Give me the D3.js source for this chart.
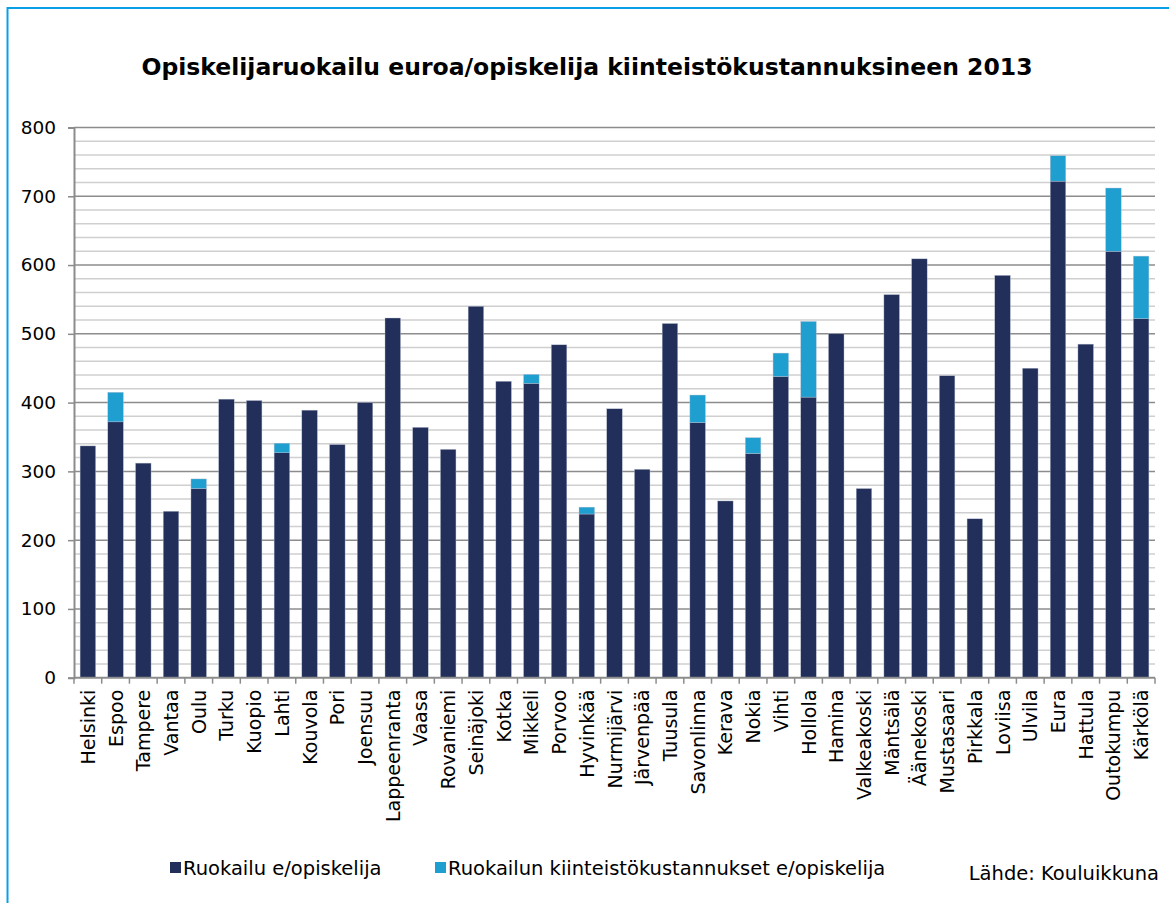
<!DOCTYPE html>
<html>
<head>
<meta charset="utf-8">
<script src="https://cdn.jsdelivr.net/npm/d3@7"></script>
<style>
  body { margin: 0; background: #fff; }
  svg { display: block; font-family: "DejaVu Sans", Verdana, sans-serif; }
</style>
</head>
<body>
<script>
// kunnat
var cities = ["Helsinki", "Espoo", "Tampere", "Vantaa", "Oulu", "Turku", "Kuopio", "Lahti",
  "Kouvola", "Pori", "Joensuu", "Lappeenranta", "Vaasa", "Rovaniemi", "Seinäjoki", "Kotka",
  "Mikkeli", "Porvoo", "Hyvinkää", "Nurmijärvi", "Järvenpää", "Tuusula", "Savonlinna", "Kerava",
  "Nokia", "Vihti", "Hollola", "Hamina", "Valkeakoski", "Mäntsälä", "Äänekoski", "Mustasaari",
  "Pirkkala", "Loviisa", "Ulvila", "Eura", "Hattula", "Outokumpu", "Kärkölä"];

// Ruokailu e/opiskelija
var meals = [337, 372, 312, 242, 275, 405, 403, 327,
  389, 339, 400, 523, 364, 332, 540, 431,
  428, 484, 238, 391, 303, 515, 371, 257,
  326, 438, 408, 500, 275, 557, 609, 439,
  231, 585, 450, 722, 485, 620, 522];

// Ruokailun kiinteistökustannukset e/opiskelija
var property = [0, 43, 0, 0, 14, 0, 0, 14,
  0, 0, 0, 0, 0, 0, 0, 0,
  13, 0, 10, 0, 0, 0, 40, 0,
  23, 34, 110, 0, 0, 0, 0, 0,
  0, 0, 0, 37, 0, 92, 91];

var seriesNames = ["Ruokailu e/opiskelija", "Ruokailun kiinteistökustannukset e/opiskelija"];
var yTicks = [0, 100, 200, 300, 400, 500, 600, 700, 800];

var width = 1169, height = 903;
var plotLeft = 74, plotRight = 1155, plotTop = 127.5, plotBottom = 677.7;
var colors = ["#212f5a", "#1f9fd0"];

var svg = d3.select("body").append("svg")
    .attr("width", width)
    .attr("height", height);

// kehys
svg.append("rect")
    .attr("x", 7.5).attr("y", 8)
    .attr("width", width).attr("height", height)
    .attr("fill", "none")
    .attr("stroke", "#0aa0e6")
    .attr("stroke-width", 2);

svg.append("text")
    .attr("x", 587).attr("y", 75)
    .attr("text-anchor", "middle")
    .attr("font-weight", "bold")
    .attr("font-size", "23.5px")
    .text("Opiskelijaruokailu euroa/opiskelija kiinteistökustannuksineen 2013");

var x = d3.scaleBand().domain(cities).range([plotLeft, plotRight]).paddingInner(0.44).paddingOuter(0.22);
var y = d3.scaleLinear().domain([0, 800]).range([plotBottom, plotTop]);

// apuviivat
svg.append("g").selectAll("line")
    .data(d3.range(20, 800, 20).filter(function(v) { return v % 100 != 0; }))
  .enter().append("line")
    .attr("x1", plotLeft).attr("x2", plotRight)
    .attr("y1", function(d) { return y(d); })
    .attr("y2", function(d) { return y(d); })
    .attr("stroke", "#cfcfcf")
    .attr("stroke-width", 1.5);

svg.append("g").selectAll("line")
    .data(yTicks.slice(1))
  .enter().append("line")
    .attr("x1", plotLeft).attr("x2", plotRight)
    .attr("y1", function(d) { return y(d); })
    .attr("y2", function(d) { return y(d); })
    .attr("stroke", "#8c8c8c")
    .attr("stroke-width", 1.5);

// pinot
var stacked = cities.map(function(c, i) { return {city: c, a: meals[i], b: property[i]}; });
var layers = d3.stack().keys(["a", "b"])(stacked);

svg.append("g").selectAll("g")
    .data(layers)
  .enter().append("g")
    .attr("fill", function(d, i) { return colors[i]; })
  .selectAll("rect")
    .data(function(d) { return d.filter(function(p) { return p[1] > p[0]; }); })
  .enter().append("rect")
    .attr("x", function(d) { return x(d.data.city); })
    .attr("width", x.bandwidth())
    .attr("y", function(d) { return y(d[1]); })
    .attr("height", function(d) { return y(d[0]) - y(d[1]); })
    .attr("stroke", "#b8bfd0")
    .attr("stroke-width", 0.4);

// y-akseli
var yAxis = svg.append("g")
    .attr("transform", "translate(" + plotLeft + ",0)")
    .call(d3.axisLeft(y).tickValues(yTicks).tickSize(6).tickPadding(12));
yAxis.select(".domain").attr("stroke", "#8c8c8c").attr("stroke-width", 2);
yAxis.selectAll(".tick line").attr("stroke", "#8c8c8c").attr("stroke-width", 1.5);
yAxis.selectAll("text")
    .attr("font-family", "DejaVu Sans, Verdana, sans-serif")
    .attr("font-size", "18.5px")
    .attr("fill", "#000");

// x-akseli
var xg = svg.append("g").attr("transform", "translate(0," + plotBottom + ")");
xg.append("line")
    .attr("x1", plotLeft).attr("x2", plotRight)
    .attr("stroke", "#8c8c8c").attr("stroke-width", 2);
xg.selectAll(".sep")
    .data(d3.range(cities.length + 1))
  .enter().append("line")
    .attr("x1", function(i) { return plotLeft + i * (plotRight - plotLeft) / cities.length; })
    .attr("x2", function(i) { return plotLeft + i * (plotRight - plotLeft) / cities.length; })
    .attr("y1", 0).attr("y2", 6)
    .attr("stroke", "#8c8c8c").attr("stroke-width", 1.5);
xg.selectAll(".lbl")
    .data(cities)
  .enter().append("text")
    .attr("transform", function(d) {
      return "translate(" + (x(d) + x.bandwidth() / 2 + 7) + ",12) rotate(-90)";
    })
    .attr("text-anchor", "end")
    .attr("font-size", "19px")
    .text(function(d) { return d; });

// selite
var legend = svg.append("g");
var legendX = [170, 435];
seriesNames.forEach(function(name, i) {
  legend.append("rect")
      .attr("x", legendX[i]).attr("y", 862)
      .attr("width", 11).attr("height", 11)
      .attr("fill", colors[i]);
  legend.append("text")
      .attr("x", legendX[i] + 13).attr("y", 875)
      .attr("font-size", "19.5px")
      .text(name);
});

svg.append("text")
    .attr("x", 1159).attr("y", 880)
    .attr("text-anchor", "end")
    .attr("font-size", "19.5px")
    .text("Lähde: Kouluikkuna");
</script>
</body>
</html>
